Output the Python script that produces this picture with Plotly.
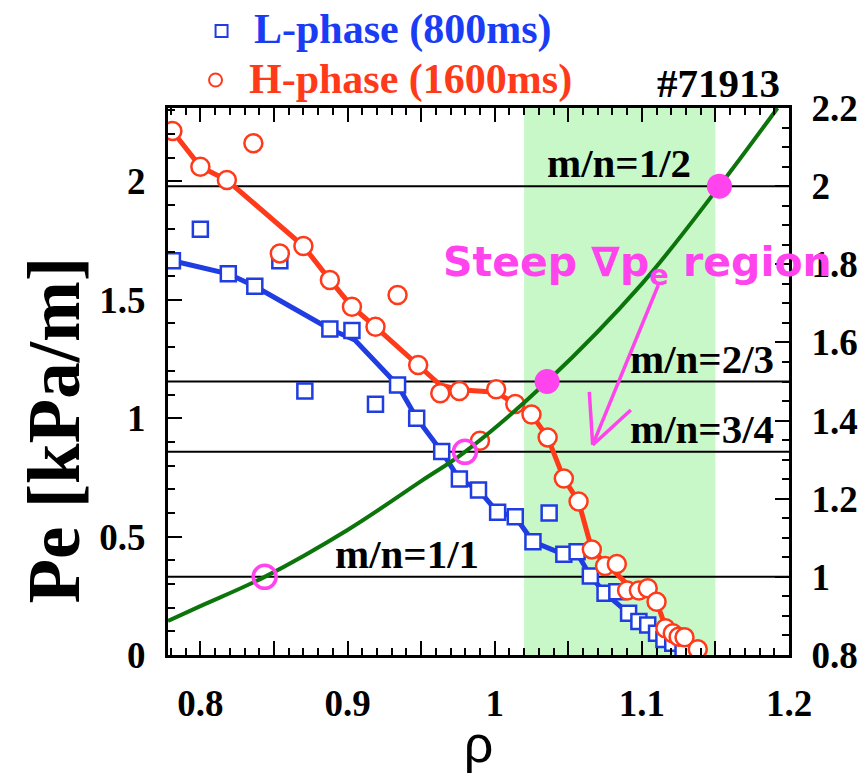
import plotly.graph_objects as go

# ---------------- data ----------------
l_rho = [0.781, 0.800, 0.819, 0.837, 0.854, 0.871, 0.888, 0.903, 0.919, 0.934,
         0.947, 0.964, 0.976, 0.989, 1.002, 1.014, 1.026, 1.037, 1.047, 1.056,
         1.065, 1.075, 1.083, 1.091, 1.098, 1.104, 1.110, 1.115, 1.121, 1.128]
l_pe = [1.665, 1.798, 1.610, 1.557, 1.665, 1.115, 1.377, 1.370, 1.059, 1.140,
        1.000, 0.859, 0.743, 0.697, 0.603, 0.584, 0.478, 0.600, 0.425, 0.436,
        0.334, 0.261, 0.267, 0.176, 0.141, 0.127, 0.092, 0.065, 0.050, 0.014]

l_fit_rho = [0.781, 0.819, 0.837, 0.888, 0.905, 0.934, 0.947, 0.964, 0.976, 0.989,
             1.002, 1.014, 1.026, 1.047, 1.056, 1.065, 1.075, 1.091, 1.104, 1.115, 1.128]
l_fit_pe = [1.665, 1.610, 1.557, 1.377, 1.330, 1.140, 1.000, 0.859, 0.743, 0.697,
            0.603, 0.584, 0.478, 0.425, 0.430, 0.334, 0.261, 0.176, 0.127, 0.065, 0.014]

h_rho = [0.781, 0.800, 0.818, 0.836, 0.854, 0.870, 0.888, 0.903, 0.919, 0.934,
         0.948, 0.963, 0.976, 0.990, 1.001, 1.014, 1.025, 1.036, 1.047, 1.057,
         1.066, 1.075, 1.083, 1.090, 1.098, 1.104, 1.110, 1.116, 1.121, 1.125,
         1.129, 1.138]
h_pe = [2.213, 2.062, 2.006, 2.161, 1.696, 1.727, 1.584, 1.471, 1.386, 1.520,
        1.225, 1.105, 1.115, 0.905, 1.122, 1.060, 1.016, 0.919, 0.745, 0.648,
        0.446, 0.376, 0.384, 0.272, 0.272, 0.282, 0.225, 0.113, 0.092, 0.077,
        0.075, 0.024]

h_fit_rho = [0.781, 0.800, 0.818, 0.870, 0.888, 0.903, 0.919, 0.948, 0.963, 0.976,
             1.001, 1.014, 1.025, 1.036, 1.047, 1.057, 1.066, 1.075, 1.090, 1.104,
             1.110, 1.116, 1.125, 1.138]
h_fit_pe = [2.213, 2.062, 2.006, 1.727, 1.584, 1.471, 1.386, 1.225, 1.140, 1.120,
            1.110, 1.060, 1.016, 0.919, 0.745, 0.648, 0.446, 0.390, 0.300, 0.270,
            0.225, 0.120, 0.080, 0.024]

q_rho = [0.778, 0.800, 0.8437, 0.900, 0.950, 0.9798, 1.0356, 1.100, 1.1527, 1.1922]
q_val = [0.887, 0.925, 1.000, 1.120, 1.245, 1.320, 1.500, 1.750, 2.000, 2.200]

res_open_rho = [0.8437, 0.9798]
res_open_q = [1.000, 1.320]
res_fill_rho = [1.0356, 1.1527]
res_fill_q = [1.500, 2.000]

mode_q = [2.0, 1.5, 1.32, 1.0]
mode_labels = ["m/n=1/2", "m/n=2/3", "m/n=3/4", "m/n=1/1"]

steep_region = [1.02, 1.15]

legend_labels = ["L-phase (800ms)", "H-phase (1600ms)"]

y_tickvals = [0, 0.5, 1, 1.5, 2]
y_ticktext = ["0", "0.5", "1", "1.5", "2"]
y2_tickvals = [0.8, 1.0, 1.2, 1.4, 1.6, 1.8, 2.0, 2.2]
y2_ticktext = ["0.8", "1", "1.2", "1.4", "1.6", "1.8", "2", "2.2"]

# ---------------- styles ----------------
BLUE = "#1f3de0"
BLUE_TXT = "#1a3cf5"
RED = "#ff3a1a"
GREEN = "#0b740b"
MAGENTA = "#ff44ee"
SERIF = "Liberation Serif"

fig = go.Figure()

fig.add_trace(go.Scatter(x=q_rho, y=q_val, yaxis="y2", mode="lines",
                         line=dict(color=GREEN, width=4, shape="spline"),
                         showlegend=False, hoverinfo="skip"))
fig.add_trace(go.Scatter(x=l_fit_rho, y=l_fit_pe, mode="lines",
                         line=dict(color=BLUE, width=5), showlegend=False))
fig.add_trace(go.Scatter(x=l_rho, y=l_pe, mode="markers", name=legend_labels[0],
                         marker=dict(symbol="square", size=15, color="white",
                                     line=dict(color=BLUE, width=2.5)),
                         showlegend=False))
fig.add_trace(go.Scatter(x=h_fit_rho, y=h_fit_pe, mode="lines",
                         line=dict(color=RED, width=5), showlegend=False))
fig.add_trace(go.Scatter(x=h_rho, y=h_pe, mode="markers", name=legend_labels[1],
                         marker=dict(symbol="circle", size=18, color="white",
                                     line=dict(color=RED, width=2.5)),
                         showlegend=False))
fig.add_trace(go.Scatter(x=res_open_rho, y=res_open_q, yaxis="y2", mode="markers",
                         marker=dict(symbol="circle-open", size=23, color=MAGENTA,
                                     line=dict(color=MAGENTA, width=3.5)),
                         showlegend=False))
fig.add_trace(go.Scatter(x=res_fill_rho, y=res_fill_q, yaxis="y2", mode="markers",
                         marker=dict(symbol="circle", size=25, color=MAGENTA,
                                     line=dict(width=0)),
                         showlegend=False))

shapes = [dict(type="rect", xref="x", yref="paper", x0=steep_region[0], x1=steep_region[1],
               y0=0, y1=1, fillcolor="#c8f8c8", line=dict(width=0), layer="below")]
for q in mode_q:
    shapes.append(dict(type="line", xref="paper", yref="y2", x0=0, x1=1, y0=q, y1=q,
                       line=dict(color="black", width=2), layer="below"))
# arrow (shaft + open head)
tip = (1.0666, 0.887)
for (ax0, ay0) in [(1.1112, 1.5625), (1.0643, 1.111), (1.0925, 1.035)]:
    shapes.append(dict(type="line", xref="x", yref="y", x0=ax0, y0=ay0, x1=tip[0], y1=tip[1],
                       line=dict(color=MAGENTA, width=3.5)))
# legend symbols
shapes.append(dict(type="rect", xref="paper", yref="paper", x0=0.0766, x1=0.0959,
                   y0=1.1298, y1=1.1517, line=dict(color=BLUE, width=2), fillcolor="white"))
shapes.append(dict(type="circle", xref="paper", yref="paper", x0=0.0661, x1=0.0870,
                   y0=1.0393, y1=1.0631, line=dict(color=RED, width=2), fillcolor="white"))

annotations = [
    dict(text=legend_labels[0], xref="paper", yref="paper", x=0.1346, y=1.1426,
         xanchor="left", yanchor="middle", showarrow=False,
         font=dict(family=SERIF, size=42, color=BLUE_TXT, weight="bold")),
    dict(text=legend_labels[1], xref="paper", yref="paper", x=0.128, y=1.0512,
         xanchor="left", yanchor="middle", showarrow=False,
         font=dict(family=SERIF, size=42, color=RED, weight="bold")),
    dict(text="#71913", xref="paper", yref="paper", x=0.9887, y=1.0, xanchor="right",
         yanchor="bottom", showarrow=False,
         font=dict(family=SERIF, size=41, color="black", weight="bold")),
    dict(text="Steep \u2207p<sub>e</sub> region", xref="paper", yref="paper", x=0.4395, y=0.713,
         xanchor="left", yanchor="middle", showarrow=False,
         font=dict(family="DejaVu Sans", size=41, color=MAGENTA, weight="bold")),
    dict(text="Pe [kPa/m]", xref="paper", yref="paper", x=-0.183, y=0.411, textangle=-90,
         xanchor="center", yanchor="middle", showarrow=False,
         font=dict(family=SERIF, size=73, color="black", weight="bold")),
]
mode_pos = [(1.0343, "left"), (1.1909, "right"), (1.1909, "right"), (0.890, "left")]
for (xx, anc), q, lab in zip(mode_pos, mode_q, mode_labels):
    annotations.append(dict(text=lab, xref="x", yref="y2", x=xx, y=q, xanchor=anc,
                            yanchor="bottom", showarrow=False, yshift=-2,
                            font=dict(family=SERIF, size=41, color="black", weight="bold")))

tickfont = dict(family=SERIF, size=37, color="black", weight="bold")

fig.update_layout(
    width=859, height=773,
    margin=dict(l=168, r=70, t=108, b=118, autoexpand=False),
    plot_bgcolor="white", paper_bgcolor="white",
    shapes=shapes, annotations=annotations,
    showlegend=False,
    xaxis=dict(range=[0.778, 1.2], showgrid=False, zeroline=False, automargin=False,
               showline=True, linecolor="black", linewidth=3, mirror="ticks",
               tickmode="linear", tick0=0.8, dtick=0.05, ticklabelstep=2,
               ticks="inside", ticklen=14, tickwidth=2, tickcolor="black",
               tickfont=tickfont, ticklabelstandoff=14,
               minor=dict(dtick=0.01, ticks="inside", ticklen=7, tickwidth=2,
                          tickcolor="black", showgrid=False),
               title=dict(text="\u03c1", font=dict(family="Liberation Sans", size=52, color="black"),
                          standoff=4)),
    yaxis=dict(range=[0, 2.31], showgrid=False, zeroline=False, automargin=False,
               showline=True, linecolor="black", linewidth=3,
               ticks="inside", ticklen=14, tickwidth=2, tickcolor="black",
               tickvals=y_tickvals, ticktext=y_ticktext, tickfont=tickfont,
               ticklabelstandoff=12,
               minor=dict(dtick=0.1, ticks="inside", ticklen=7, tickwidth=2,
                          tickcolor="black", showgrid=False)),
    yaxis2=dict(range=[0.8, 2.2], overlaying="y", side="right", showgrid=False,
                zeroline=False, showline=True, linecolor="black", linewidth=3,
                automargin=False,
                ticks="inside", ticklen=14, tickwidth=2, tickcolor="black",
                tickvals=y2_tickvals, ticktext=y2_ticktext, tickfont=tickfont,
                ticklabelstandoff=12,
                minor=dict(dtick=0.05, ticks="inside", ticklen=7, tickwidth=2,
                           tickcolor="black", showgrid=False)),
)

fig.write_html("out.html")
